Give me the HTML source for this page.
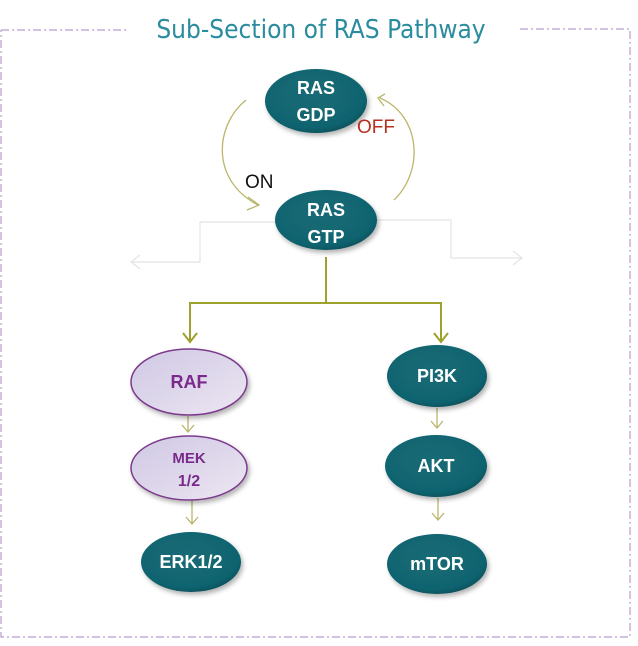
<!DOCTYPE html>
<html><head><style>
html,body{margin:0;padding:0;background:#fff;width:638px;height:646px;overflow:hidden}
svg{display:block}
text{font-family:"Liberation Sans",sans-serif}
.n{font-family:"DejaVu Sans Condensed","Liberation Sans",sans-serif}
</style></head><body>
<svg width="638" height="646" viewBox="0 0 638 646" xmlns="http://www.w3.org/2000/svg">
<defs>
<radialGradient id="teal" cx="45%" cy="40%" r="65%">
<stop offset="0" stop-color="#136a75"/><stop offset="0.8" stop-color="#116470"/><stop offset="1" stop-color="#0b4c55"/>
</radialGradient>
<linearGradient id="lav" x1="0" y1="0" x2="1" y2="1">
<stop offset="0" stop-color="#cfc8e4"/><stop offset="1" stop-color="#ece6f2"/>
</linearGradient>
<filter id="sh" x="-20%" y="-20%" width="150%" height="150%"><feDropShadow dx="2" dy="3" stdDeviation="2.5" flood-color="#000" flood-opacity="0.3"/></filter>
</defs>
<g stroke="#b89ccc" stroke-width="1.2" stroke-dasharray="8,3,2,3" fill="none">
<path d="M1,30 H128"/><path d="M520,29 H630 V637 H1 V30"/>
</g>
<text x="321" y="38" text-anchor="middle" font-size="26" fill="#2a8c9e" style='font-family:"DejaVu Sans Condensed","Liberation Sans Narrow","Liberation Sans",sans-serif'>Sub-Section of RAS Pathway</text>

<g fill="none" stroke="#e4e4e4" stroke-width="1.2">
<path d="M276,222 H200 V262 H131"/><path d="M140,255 L131,262 L140,269"/>
<path d="M377,220 H451 V258 H522"/><path d="M513,251 L522,258 L513,265"/>
</g>
<g fill="none" stroke="#b9b66a" stroke-width="1.3">
<path d="M246,100 C215,125 210,180 258,205"/><path d="M248,197 L259,205 L247,210"/>
<path d="M394,200 C425,170 420,115 380,98"/><path d="M385,94 L378,98 L384,106"/>
</g>
<g fill="none" stroke="#9ea22c" stroke-width="2">
<path d="M326,257 V303 H190 V342"/><path d="M326,303 H441 V342"/>
<path d="M183,333 L190,342 L197,333"/><path d="M434,333 L441,342 L448,333"/>
</g>
<g fill="none" stroke="#b9b66a" stroke-width="1.3">
<path d="M188,416 V432 M182,425 L188,432 L194,425"/>
<path d="M192,500 V524 M186,517 L192,524 L198,517"/>
<path d="M437,408 V428 M431,421 L437,428 L443,421"/>
<path d="M438,498 V520 M432,513 L438,520 L444,513"/>
</g>

<g filter="url(#sh)" fill="url(#teal)">
<ellipse cx="316" cy="101" rx="51" ry="32"/>
<ellipse cx="326" cy="220" rx="51" ry="30"/>
<ellipse cx="191" cy="562" rx="50" ry="30"/>
<ellipse cx="437" cy="376" rx="50" ry="31"/>
<ellipse cx="436" cy="466" rx="51" ry="31"/>
<ellipse cx="437" cy="564" rx="50" ry="30"/>
</g>
<g fill="url(#lav)" stroke="#7c3a8c" stroke-width="1.5" filter="url(#sh)">
<ellipse cx="189" cy="382" rx="58" ry="33"/>
<ellipse cx="189" cy="468" rx="58" ry="32"/>
</g>
<g class="n" fill="#fff" font-weight="bold" font-size="18" text-anchor="middle">
<text x="316" y="94">RAS</text><text x="316" y="121">GDP</text>
<text x="326" y="216">RAS</text><text x="326" y="243">GTP</text>
<text x="191" y="568">ERK1/2</text>
<text x="437" y="382">PI3K</text>
<text x="436" y="472">AKT</text>
<text x="437" y="570">mTOR</text>
</g>
<g class="n" fill="#7a2a8a" font-weight="bold" text-anchor="middle">
<text x="189" y="388" font-size="18">RAF</text>
<text x="189" y="463" font-size="15">MEK</text>
<text x="189" y="486" font-size="16">1/2</text>
</g>
<text x="357" y="133" font-size="19" fill="#b5301e">OFF</text>
<text x="245" y="188" font-size="19" fill="#111">ON</text>
</svg>
</body></html>
